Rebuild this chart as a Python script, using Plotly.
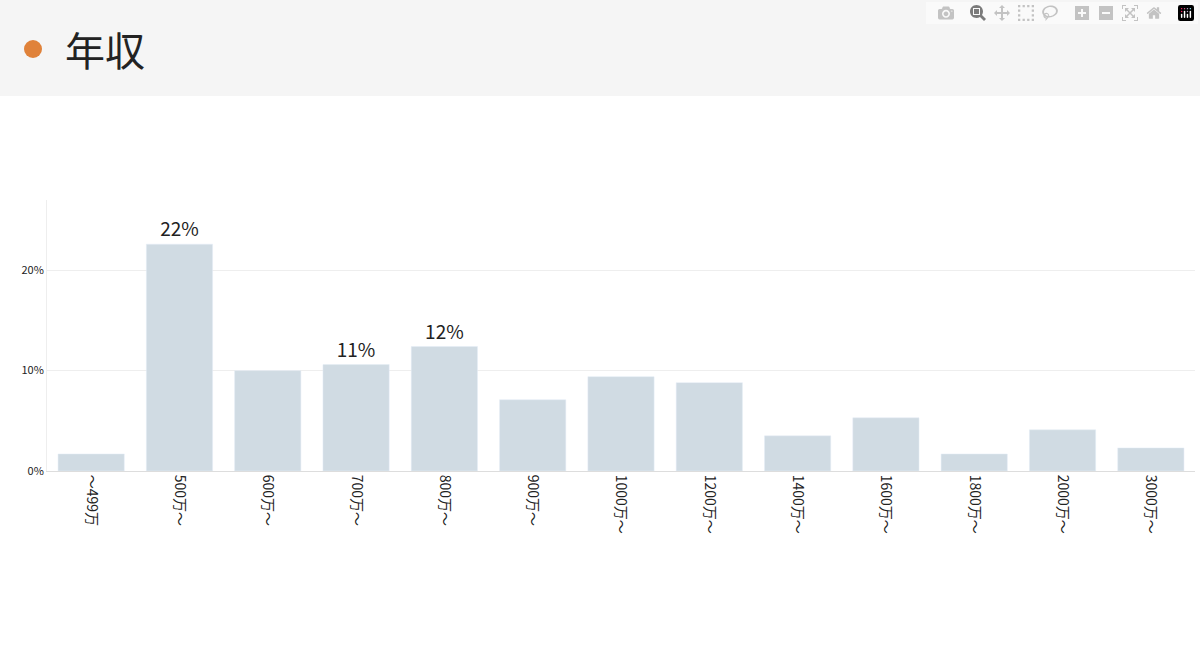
import plotly.graph_objects as go

categories = ["～499万","500万～","600万～","700万～","800万～","900万～","1000万～","1200万～","1400万～","1600万～","1800万～","2000万～","3000万～"]
values = [1.7,22.6,10.0,10.6,12.4,7.1,9.4,8.8,3.5,5.3,1.7,4.1,2.3]
labels = ["","22%","","11%","12%","","","","","","","",""]

W,H = 1200,654
L,R,T,B = 47,5,200,183
pw,ph = W-L-R, H-T-B
def px(x): return (x-L)/pw
def py(y): return (H-B-y)/ph

fig = go.Figure(go.Bar(x=categories, y=values, text=labels, textposition="outside",
    textfont=dict(size=19, color="#222"), marker_color="#D0DBE3", width=0.75, cliponaxis=False,
    hoverinfo="skip"))
fig.update_layout(width=W, height=H, margin=dict(l=L,r=R,t=T,b=B), plot_bgcolor="white", paper_bgcolor="white",
    font=dict(family="Noto Sans CJK JP", color="#222"), showlegend=False,
    xaxis=dict(tickangle=90, tickfont=dict(size=14), showline=True, linecolor="#ddd", linewidth=1),
    yaxis=dict(range=[0,27], tickvals=[0,10,20], ticktext=["0%","10%","20%"], tickfont=dict(size=11),
               gridcolor="#eee", zeroline=False, showline=True, linecolor="#eee"),
    shapes=[dict(type="rect", xref="paper", yref="paper", x0=px(0), x1=px(W), y0=py(96), y1=py(0),
                 fillcolor="#F5F5F5", line_width=0, layer="below"),
            dict(type="circle", xref="paper", yref="paper", x0=px(24), x1=px(42), y0=py(58), y1=py(40),
                 fillcolor="#E0823A", line_width=0)],
    annotations=[dict(text="年収", xref="paper", yref="paper", x=px(63), y=py(49), xanchor="left", yanchor="middle",
                      showarrow=False, font=dict(size=40, color="#222"))])
fig.write_html("out.html")
with open("out.html", encoding="utf-8") as f:
    html = f.read()
html = html.replace("<head>", "<head><style>body{margin:0}</style>", 1)
with open("out.html", "w", encoding="utf-8") as f:
    f.write(html)
